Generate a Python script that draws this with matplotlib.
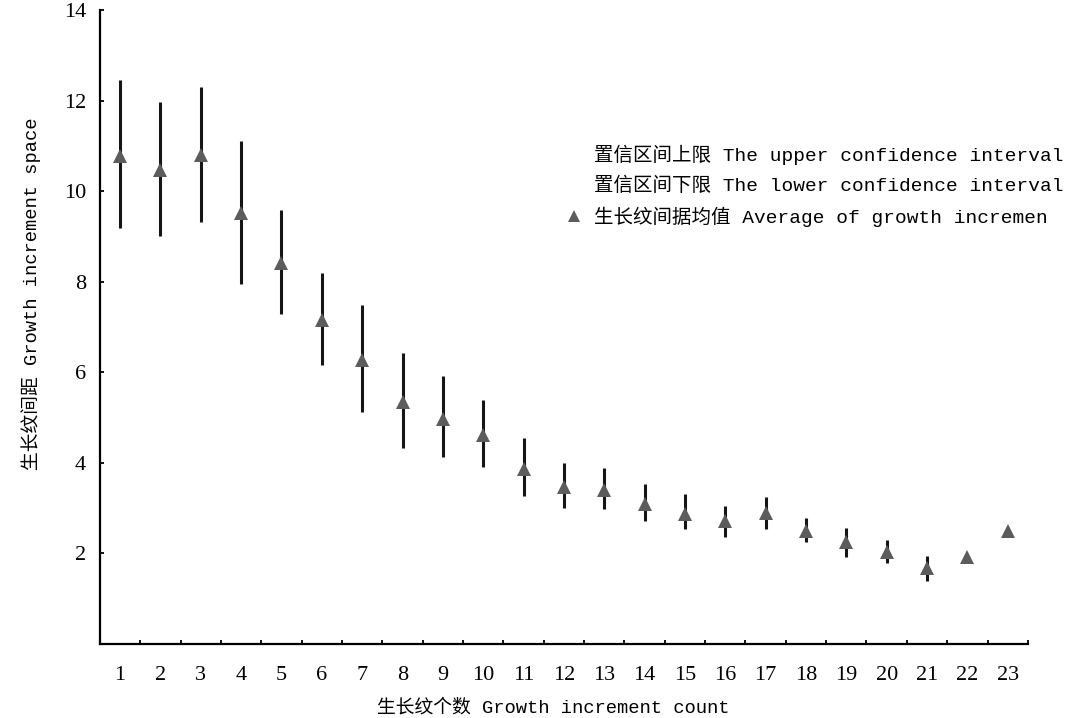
import numpy as np
import matplotlib.pyplot as plt
from matplotlib.lines import Line2D

# donnees
counts = list(range(1, 24))
means = [10.77, 10.46, 10.80, 9.51, 8.41, 7.15, 6.28, 5.35, 4.98, 4.62, 3.87, 3.47,
         3.41, 3.10, 2.88, 2.72, 2.90, 2.50, 2.26, 2.04, 1.68, 1.92, 2.50]
upper = [12.46, 11.97, 12.30, 11.10, 9.58, 8.19, 7.48, 6.42, 5.91, 5.38, 4.55, 4.00,
         3.89, 3.54, 3.32, 3.05, 3.25, 2.79, 2.57, 2.30, 1.95, np.nan, np.nan]
lower = [9.18, 9.00, 9.31, 7.95, 7.28, 6.17, 5.13, 4.34, 4.14, 3.92, 3.27, 3.01,
         2.99, 2.72, 2.54, 2.37, 2.54, 2.26, 1.93, 1.79, 1.39, np.nan, np.nan]

legend_labels = ["置信区间上限 The upper confidence interval",
                 "置信区间下限 The lower confidence interval",
                 "生长纹间据均值 Average of growth incremen"]
xlabel = "生长纹个数 Growth increment count"
ylabel = "生长纹间距 Growth increment space"

txt_font = ['Liberation Mono', 'Noto Sans CJK SC']
num_font = 'Liberation Serif'

fig = plt.figure(figsize=(10.69, 7.18), dpi=100)
ax = fig.add_axes([0.0935, 0.103, 0.868, 0.883])

# barres d'erreur puis triangles
ax.vlines(counts, lower, upper, color='#151515', lw=2.2, zorder=2)
ax.plot(counts, means, ls='none', marker='^', ms=10.5, color='#5c5c5c',
        markeredgewidth=0, zorder=3)

ax.set_xlim(0.5, 23.5)
ax.set_ylim(0, 14)

for s in ['top', 'right']:
    ax.spines[s].set_visible(False)
for s in ['left', 'bottom']:
    ax.spines[s].set_linewidth(1.6)
    ax.spines[s].set_color('black')

ax.set_xticks(counts)
ax.set_xticklabels([str(c) for c in counts], fontfamily=num_font, fontsize=16)
ax.set_xticks(np.arange(1.5, 24, 1), minor=True)
ax.tick_params(axis='x', which='major', length=0, pad=16)
ax.tick_params(axis='x', which='minor', direction='in', length=3, width=1.3)

yt = [2, 4, 6, 8, 10, 12, 14]
ax.set_yticks(yt)
ax.set_yticklabels([str(v) for v in yt], fontfamily=num_font, fontsize=16)
ax.tick_params(axis='y', direction='in', length=3, width=1.3, pad=10)

ax.set_xlabel(xlabel, fontfamily=txt_font, fontsize=13.5)
ax.set_ylabel(ylabel, fontfamily=txt_font, fontsize=13.5)
ax.xaxis.set_label_coords(0.489, -0.086)
ax.yaxis.set_label_coords(-0.063, 0.552)

handles = [Line2D([], [], ls='none'),
           Line2D([], [], ls='none'),
           Line2D([], [], ls='none', marker='^', ms=8, color='#5c5c5c', markeredgewidth=0)]
leg = ax.legend(handles, legend_labels, loc='upper left',
                bbox_to_anchor=(0.495, 0.8), frameon=False,
                prop={'family': txt_font, 'size': 14},
                handlelength=0.7, handletextpad=0.7, labelspacing=0.6,
                borderaxespad=0)

fig.savefig("out.png", dpi=100, facecolor='white')
